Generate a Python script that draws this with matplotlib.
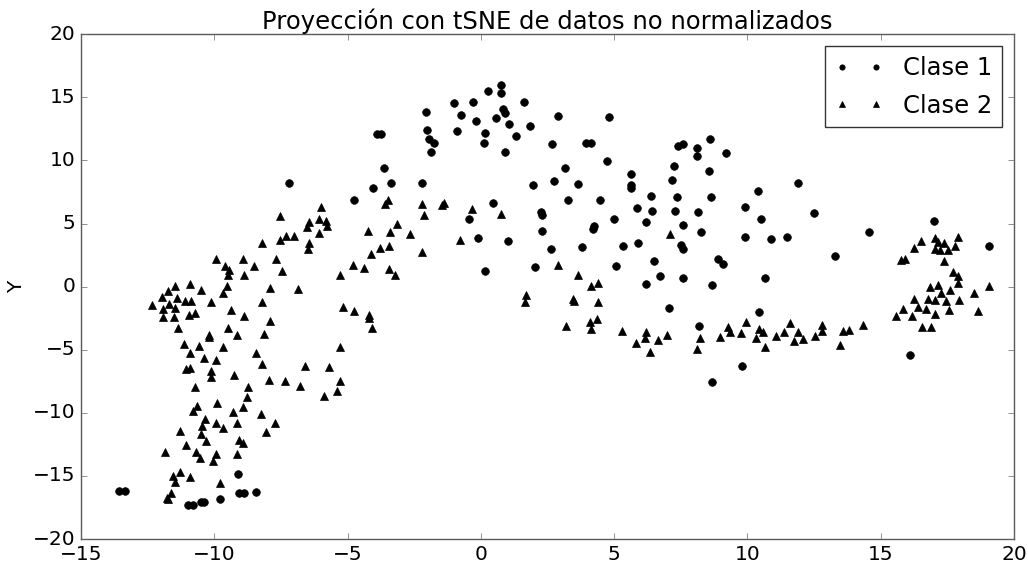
import numpy as np
import matplotlib.pyplot as plt

plt.style.use('classic')

# Clase 1 (circulos)
x1 = [-7.2, -13.56, -13.35, -9.12, -11.0, -10.81, -10.5, -10.38, -9.78, -9.09, -8.9, -8.44,
      0.75, 0.76, 0.28, -0.29, -1.0, -0.73, -0.18, 0.55, 0.83, 0.9, 1.61, 1.05, 1.83, 1.33,
      0.16, 0.13, -0.88, 0.9, -2.06, -2.01, -1.95, -1.76, -1.86, -3.9, -3.73, -3.64, -3.38,
      -4.03, -2.2, -4.76, 1.96, 0.44, -0.44, -0.09, 1.03, 0.16, 2.03,
      2.91, 4.8, 2.68, 3.95, 4.15, 3.15, 4.73, 2.73, 3.66, 3.28, 4.48, 2.25, 2.28, 2.3, 4.25,
      4.19, 5.0, 2.63, 3.78, 5.35, 5.08, 5.63, 5.64, 5.65, 5.86, 6.4, 6.41, 6.21, 5.88, 6.48,
      6.71, 6.21, 7.04, 7.25, 7.16, 7.35, 7.3, 7.58, 7.5, 7.58, 7.58, 7.38, 7.59, 8.11, 8.1,
      8.6, 9.2, 8.55, 8.63, 8.16, 8.26, 8.9, 9.1, 8.66, 8.19, 8.66, 9.81, 10.45, 10.66, 9.9,
      10.41, 10.49, 9.91, 10.9,
      11.88, 12.5, 11.5, 13.3, 14.56, 17.0, 19.08, 16.09]
y1 = [8.2, -16.2, -16.2, -14.84, -17.3, -17.3, -17.05, -17.05, -16.8, -16.37, -16.37, -16.24,
      15.95, 15.37, 15.5, 14.63, 14.58, 13.58, 13.13, 13.39, 14.05, 13.74, 14.63, 12.89, 12.74,
      11.95, 12.18, 11.42, 12.37, 10.66, 13.82, 12.42, 11.68, 11.37, 10.71, 12.08, 12.08, 9.39,
      8.21, 7.79, 8.21, 6.87, 8.08, 6.63, 5.39, 3.87, 3.58, 1.24, 1.55,
      13.5, 13.47, 11.34, 11.42, 11.42, 9.42, 9.95, 8.37, 8.16, 6.89, 6.89, 5.89, 5.71, 4.42,
      4.84, 4.53, 5.37, 2.95, 3.11, 3.26, 1.6, 8.95, 8.08, 7.82, 6.21, 7.21, 6.03, 5.11, 3.42,
      2.0, 0.84, 0.18, -1.68, 9.55, 8.47, 7.13, 6.03, 4.89, 3.34, 3.0, 0.66, 11.11, 11.29,
      10.95, 10.37, 11.71, 10.58, 9.18, 7.13, 5.92, 4.34, 2.16, 1.76, 0.1, -3.1, -7.58, -6.26,
      -2.0, 0.71, 6.29, 7.6, 5.39, 3.92, 3.77,
      8.23, 5.84, 3.96, 2.44, 4.32, 5.21, 3.21, -5.4]

# Clase 2 (triangulos)
x2 = [-7.53, -7.54, -7.3, -7.0, -8.21, -7.7, -7.45, -9.94, -9.61, -9.45, -9.5, -8.93, -8.9,
      -8.51, -7.91, -6.85, -9.53, -9.68, -10.13, -10.5, -10.9, -11.09, -10.86, -10.94, -10.71,
      -11.46, -11.75, -11.95, -11.39, -11.69, -12.35, -11.91, -11.46, -11.94, -11.53, -11.35,
      -11.13, -10.91, -11.06, -10.93, -10.74, -10.56, -10.4, -10.19, -10.18, -9.94, -10.14,
      -10.14, -9.69, -9.36, -9.48, -9.16, -8.88, -8.2, -7.9, -8.13, -8.45, -8.21, -7.96, -7.34,
      -6.79, -6.59, -9.26, -8.73, -8.78, -8.93, -9.3, -9.15, -9.91, -9.94, -9.69, -10.33,
      -10.46, -10.5, -10.66, -10.8, -11.29, -11.05, -10.31, -10.69, -10.53, -10.06, -9.95,
      -9.15, -9.09, -8.93, -8.26, -8.06, -7.73, -11.84, -11.54, -11.48, -11.3, -10.93, -9.8,
      -11.63, -11.78, -11.74,
      -6.0, -6.44, -6.53, -6.06, -5.81, -5.78, -6.09, -6.44, -6.5, -3.48, -3.6, -2.2, -2.15,
      -1.38, -1.44, -0.34, 0.74, -4.23, -3.4, -3.16, -2.65, -3.79, -3.43, -4.13, -2.2, -0.79,
      -4.81, -4.4, -3.46, -3.21, -5.28, -5.18, -4.75, -4.21, -4.19, -4.1, -5.3, -5.68, -5.28,
      -5.4, -5.9, 1.7, 1.64,
      2.88, 3.66, 4.13, 4.39, 3.45, 3.5, 4.39, 3.21, 4.08, 4.15, 4.34, 5.28, 5.83, 6.14, 6.2,
      6.33, 6.63, 6.99, 7.08, 8.1, 8.23, 8.96, 9.28, 9.35, 9.74, 9.94, 10.33, 10.43, 10.59,
      10.66,
      11.08, 11.38, 11.6, 11.73, 11.9, 12.1, 12.54, 12.78, 12.78, 13.49, 13.6, 13.8, 14.34,
      15.59, 15.84, 16.19, 16.24, 16.41, 16.54, 16.71, 16.78, 16.88, 16.86, 17.05, 17.05,
      17.13, 17.25, 17.46, 17.56, 17.58, 17.94, 17.91, 17.89, 17.71, 17.36, 17.51, 17.36,
      17.8, 17.91, 17.13, 17.05, 17.05, 17.21, 16.5, 16.24, 15.76, 15.91, 18.51, 18.64, 19.06]
y2 = [5.58, 3.68, 4.0, 4.05, 3.47, 2.16, 1.24, 2.21, 1.63, 1.32, 0.89, 2.21, 0.89,
      1.63, -0.08, -0.16, 0.05, -0.47, -1.18, -0.29, 0.24, -1.13, -1.13, -2.26, -2.1,
      0.05, -0.32, -0.79, -0.87, -1.39, -1.45, -1.79, -1.71, -2.39, -2.39, -3.29,
      -4.55, -5.26, -6.53, -6.45, -7.95, -4.68, -5.68, -3.82, -4.0, -5.79, -6.66,
      -7.18, -4.76, -1.84, -3.24, -3.84, -2.32, -1.18, -2.76, -3.76, -5.26, -6.1, -7.37, -7.5,
      -7.84, -6.32, -7.03, -7.97, -8.71, -9.55, -9.95, -10.79, -9.21, -10.79, -11.18, -10.47,
      -11.05, -11.66, -9.42, -9.89, -11.47, -12.58, -12.26, -13.08, -13.58, -13.84, -13.24,
      -13.24, -12.18, -12.37, -10.08, -11.53, -10.79, -13.1, -15.03, -15.47, -14.68, -15.1,
      -15.55, -16.34, -16.79, -16.85,
      6.29, 5.16, 4.74, 5.37, 5.24, 4.84, 4.26, 3.42, 3.0, 6.89, 6.58, 6.55, 5.71,
      6.63, 6.45, 6.16, 5.79, 4.45, 4.32, 4.97, 4.21, 3.08, 3.24, 2.6, 2.74, 3.68,
      1.68, 1.5, 1.37, 0.92, 0.92, -1.58, -1.95, -2.24, -2.5, -3.24, -4.82, -6.39, -7.5,
      -8.24, -8.68, -0.68, -1.21,
      1.68, 0.89, 0.05, 0.26, -1.0, -1.1, -1.18, -3.1, -2.84, -3.37, -2.53, -3.55, -4.47,
      -4.1, -3.63, -5.16, -4.24, -3.84, 4.18, -4.95, -4.1, -3.97, -3.16, -3.63, -3.68, -2.84,
      -4.1, -3.32, -3.63, -4.76,
      -3.88, -3.57, -2.88, -4.27, -3.57, -4.13, -3.88, -3.02, -3.55, -4.65, -3.52, -3.41,
      -3.02, -2.3, -1.8, -2.35, -0.94, -1.63, -3.16, -1.77, -0.94, -3.21, 0.0, -1.08, -2.13,
      0.17, -0.53, -1.16, -1.86, -0.28, -1.02, 0.3, 0.83, 1.19, 2.02, 2.91, 3.49,
      3.24, 3.91, 3.55, 3.88, 2.96, 2.94, 3.63, 3.07, 2.08, 2.16, -0.47, -1.94, 0.03]

fig = plt.figure(figsize=(10.28, 5.66), dpi=100, facecolor='white')
ax = fig.add_axes([0.0788, 0.0477, 0.9076, 0.8917])
ax.set_facecolor('white')

ax.plot(x1, y1, 'ko', markersize=5.5, label='Clase 1')
ax.plot(x2, y2, 'k^', markersize=5.5, label='Clase 2')

ax.set_xlim(-15, 20)
ax.set_ylim(-20, 20)
ax.set_xticks(np.arange(-15, 21, 5))
ax.set_yticks(np.arange(-20, 21, 5))
ax.tick_params(labelsize=14.5, direction='in', length=4, color='0.4')
for s in ax.spines.values():
    s.set_color('0.35')

ax.set_title('Proyección con tSNE de datos no normalizados', fontsize=17.5, pad=4)
ax.set_ylabel('Y', fontsize=14.5)

leg = ax.legend(loc='upper right', numpoints=2, fontsize=17.5, markerscale=0.7,
                fancybox=False, borderaxespad=0.5, labelspacing=0.55)
leg.get_frame().set_edgecolor('0.2')

fig.savefig('out.png', dpi=100, facecolor='white')
